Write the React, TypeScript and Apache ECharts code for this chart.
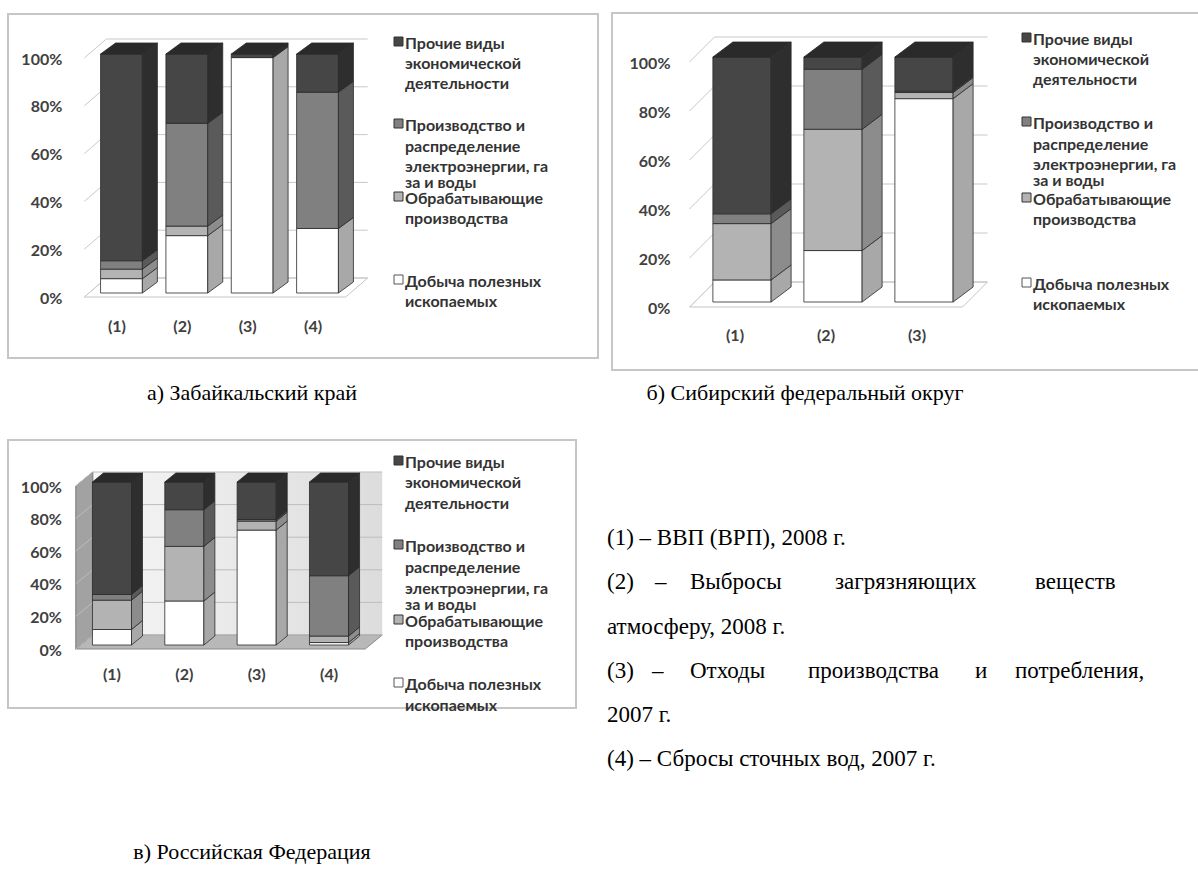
import React, { useEffect, useRef } from "react";
import * as echarts from "echarts";

// ---------- DATA ----------
const seriesNames = [
  "Добыча полезных ископаемых",
  "Обрабатывающие производства",
  "Производство и распределение электроэнергии, газа и воды",
  "Прочие виды экономической деятельности",
];

// а) Забайкальский край
const categoriesA = ["(1)", "(2)", "(3)", "(4)"];
const miningA = [6, 24, 98.5, 27];
const manufA = [4, 4, 0, 0];
const energyA = [3.5, 43, 0, 57];
const otherA = [86.5, 29, 1.5, 16];

// б) Сибирский федеральный округ
const categoriesB = ["(1)", "(2)", "(3)"];
const miningB = [9, 21, 83];
const manufB = [23, 49.5, 2.5];
const energyB = [4, 24.5, 0.5];
const otherB = [64, 5, 14];

// в) Российская Федерация
const categoriesC = ["(1)", "(2)", "(3)", "(4)"];
const miningC = [9.5, 27, 70.5, 1.5];
const manufC = [18, 33.5, 5.5, 4];
const energyC = [3.5, 22.5, 1, 37];
const otherC = [69, 17, 23, 57.5];

const yTicks = [0, 20, 40, 60, 80, 100];

const legendEntries = [
  { lines: ["Прочие виды", "экономической", "деятельности"], series: 3 },
  { lines: ["Производство и", "распределение", "электроэнергии, га", "за и воды"], series: 2 },
  { lines: ["Обрабатывающие", "производства"], series: 1 },
  { lines: ["Добыча полезных", "ископаемых"], series: 0 },
];

const captions = ["а) Забайкальский край", "б) Сибирский федеральный округ", "в) Российская Федерация"];

// ---------- STYLE ----------
const faces = [
  { front: "#ffffff", side: "#a8a8a8", top: "#e4e4e4" },
  { front: "#b3b3b3", side: "#8c8c8c", top: "#9e9e9e" },
  { front: "#808080", side: "#5a5a5a", top: "#6a6a6a" },
  { front: "#464646", side: "#2e2e2e", top: "#2a2a2a" },
];
const legendSwatch = ["#ffffff", "#b3b3b3", "#808080", "#464646"];
const SANS = "Lato";
const SERIF = "Liberation Serif";

const charts = [
  {
    cats: categoriesA, vals: [miningA, manufA, energyA, otherA],
    grid: { left: 84.3, top: 58, width: 261.4, height: 239 },
    frac: 0.64, ox: 4.5, oy: -4, bdx: 15, bdy: -11, wdx: 22, wdy: -19, shaded: false,
    xMargin: 20, yMargin: 22,
    legX: 394, legY: 42, legOffs: [[0, 20, 40], [82, 103, 123, 139], [155, 175], [238, 258]],
  },
  {
    cats: categoriesB, vals: [miningB, manufB, energyB, otherB],
    grid: { left: 689.5, top: 62, width: 273, height: 245 },
    frac: 0.64, ox: 7, oy: -5, bdx: 20, bdy: -15, wdx: 25, wdy: -25, shaded: false,
    xMargin: 19, yMargin: 19,
    legX: 1022, legY: 38, legOffs: [[0, 20, 40], [84, 105, 125, 141], [160, 180], [245, 265]],
  },
  {
    cats: categoriesC, vals: [miningC, manufC, energyC, otherC],
    grid: { left: 75.8, top: 486, width: 289.4, height: 163 },
    frac: 0.54, ox: 0, oy: -4, bdx: 11, bdy: -9, wdx: 17, wdy: -14, shaded: true,
    xMargin: 16, yMargin: 14,
    legX: 394, legY: 461, legOffs: [[0, 20, 41], [84, 105, 126, 142], [159, 179], [222, 243]],
  },
];

function buildOption() {
  const grid: any[] = [];
  const xAxis: any[] = [];
  const yAxis: any[] = [];
  const series: any[] = [];
  const graphic: any[] = [];

  charts.forEach((c, gi) => {
    grid.push({ ...c.grid, containLabel: false });
    xAxis.push({
      type: "category", gridIndex: gi, data: c.cats,
      axisLine: { show: false }, axisTick: { show: false }, splitLine: { show: false },
      axisLabel: { margin: c.xMargin, fontFamily: SANS, fontWeight: "bold", fontSize: 16, color: "#404040" },
    });
    yAxis.push({
      type: "value", gridIndex: gi, min: 0, max: 100, interval: 20,
      axisLine: { show: false }, axisTick: { show: false }, splitLine: { show: false },
      axisLabel: { margin: c.yMargin, formatter: "{value}%", fontFamily: SANS, fontWeight: "bold", fontSize: 16, color: "#404040" },
    });

    // walls & gridlines
    series.push({
      type: "custom", name: "walls" + gi, xAxisIndex: gi, yAxisIndex: gi, silent: true,
      data: yTicks.map((t) => [0, t]),
      encode: { x: 0, y: 1 },
      renderItem: (params: any, api: any) => {
        const v = api.value(1);
        const p = api.coord([0, v]);
        const cs = params.coordSys;
        const L = cs.x, R = cs.x + cs.width, y = p[1];
        const yTop = cs.y;
        const { wdx, wdy } = c;
        const children: any[] = [];
        if (v === 0) {
          if (c.shaded) {
            children.push({
              type: "polygon",
              shape: { points: [[L + wdx, y + wdy], [R + wdx, y + wdy], [R + wdx, yTop + wdy], [L + wdx, yTop + wdy]] },
              style: {
                fill: new echarts.graphic.LinearGradient(0, 0, 1, 0, [
                  { offset: 0, color: "#f6f6f6" }, { offset: 1, color: "#dcdcdc" },
                ]),
              },
            });
          }
          children.push({
            type: "polygon",
            shape: { points: [[L, y], [R, y], [R + wdx, y + wdy], [L + wdx, y + wdy]] },
            style: { fill: c.shaded ? "#b8b8b8" : "#ffffff", stroke: c.shaded ? "#8a8a8a" : "#c4c4c4", lineWidth: 1 },
          });
          children.push({
            type: "polygon",
            shape: { points: [[L, y], [L + wdx, y + wdy], [L + wdx, yTop + wdy], [L, yTop]] },
            style: { fill: c.shaded ? "#a2a2a2" : "#ffffff", stroke: c.shaded ? "#7a7a7a" : "none", lineWidth: 1 },
          });
        }
        children.push({
          type: "polyline",
          shape: { points: [[L, y], [L + wdx, y + wdy], [R + wdx, y + wdy]] },
          style: { stroke: c.shaded ? "#bdbdbd" : "#c8c8c8", lineWidth: 1, fill: "none" },
        });
        return { type: "group", children };
      },
      z: 1,
    });

    // stacked 3D bars
    c.vals.forEach((arr, si) => {
      const data = arr.map((v, i) => {
        let lo = 0;
        for (let k = 0; k < si; k++) lo += c.vals[k][i];
        let isTop = true;
        for (let k = si + 1; k < c.vals.length; k++) if (c.vals[k][i] > 0) isTop = false;
        return [i, lo, lo + v, isTop ? 1 : 0];
      });
      const f = faces[si];
      series.push({
        type: "custom", name: seriesNames[si], xAxisIndex: gi, yAxisIndex: gi,
        data, encode: { x: 0, y: [1, 2] },
        renderItem: (params: any, api: any) => {
          const cat = api.value(0), lo = api.value(1), hi = api.value(2), top = api.value(3);
          if (hi - lo <= 0) return null;
          const band = api.size([1, 0])[0];
          const w = band * c.frac;
          const pLo = api.coord([cat, lo]);
          const pHi = api.coord([cat, hi]);
          const cx = pLo[0] + c.ox;
          const yb = pLo[1] + c.oy, yt = pHi[1] + c.oy;
          const x0 = cx - w / 2, x1 = cx + w / 2;
          const dx = c.bdx, dy = c.bdy;
          const st = { stroke: "#2a2a2a", lineWidth: 0.8 };
          const children: any[] = [
            { type: "polygon", shape: { points: [[x0, yt], [x1, yt], [x1, yb], [x0, yb]] }, style: { fill: f.front, ...st } },
            { type: "polygon", shape: { points: [[x1, yb], [x1, yt], [x1 + dx, yt + dy], [x1 + dx, yb + dy]] }, style: { fill: f.side, ...st } },
          ];
          if (top) {
            children.push({ type: "polygon", shape: { points: [[x0, yt], [x1, yt], [x1 + dx, yt + dy], [x0 + dx, yt + dy]] }, style: { fill: f.top, ...st } });
          }
          return { type: "group", children };
        },
        z: 2,
      });
    });

    // legend
    legendEntries.forEach((e, ei) => {
      const offs = c.legOffs[ei];
      graphic.push({
        type: "rect", shape: { x: c.legX, y: c.legY + offs[0] - 5, width: 9, height: 9 },
        style: { fill: legendSwatch[e.series], stroke: e.series === 0 ? "#555" : "#333", lineWidth: 1 },
        z: 10,
      });
      e.lines.forEach((t, li) => {
        graphic.push({
          type: "text", x: c.legX + 11, y: c.legY + offs[li], z: 10,
          style: { text: t, fill: "#333", font: `bold 16px ${SANS}`, verticalAlign: "middle", align: "left" },
        });
      });
    });
  });

  // chart frames
  const frames = [
    { x: 8, y: 14, w: 590, h: 344 },
    { x: 612, y: 13, w: 600, h: 357 },
    { x: 8, y: 440, w: 568, h: 268 },
  ];
  frames.forEach((f) => {
    graphic.push({
      type: "rect", shape: { x: f.x, y: f.y, width: f.w, height: f.h }, z: 0,
      style: { fill: "none", stroke: "#c6c6c6", lineWidth: 2 },
    });
  });

  // captions
  const capPos = [[252, 392], [805, 392], [252, 851]];
  captions.forEach((t, i) => {
    graphic.push({
      type: "text", x: capPos[i][0], y: capPos[i][1], z: 10,
      style: { text: t, fill: "#000", font: `22px ${SERIF}`, align: "center", verticalAlign: "middle" },
    });
  });

  // explanation list (justified like the source)
  const listWords: [string, number, number][] = [
    ["(1) – ВВП (ВРП), 2008 г.", 607, 537],
    ["(2)", 607, 581], ["–", 655, 581], ["Выбросы", 690, 581], ["загрязняющих", 835, 581], ["веществ", 1035, 581],
    ["атмосферу, 2008 г.", 607, 626],
    ["(3)", 607, 670], ["–", 652, 670], ["Отходы", 690, 670], ["производства", 808, 670], ["и", 975, 670], ["потребления,", 1015, 670],
    ["2007 г.", 607, 714],
    ["(4) – Сбросы сточных вод, 2007 г.", 607, 758],
  ];
  listWords.forEach(([t, x, y]) => {
    graphic.push({
      type: "text", x, y, z: 10,
      style: { text: t, fill: "#000", font: `23px ${SERIF}`, align: "left", verticalAlign: "middle" },
    });
  });

  return {
    animation: false,
    backgroundColor: "#ffffff",
    grid, xAxis, yAxis, series, graphic,
  };
}

export default function App() {
  const ref = useRef<HTMLDivElement>(null);
  useEffect(() => {
    const chart = echarts.init(ref.current!, undefined, { renderer: "svg" });
    chart.setOption(buildOption() as any);
    return () => chart.dispose();
  }, []);
  return (
    <div
      ref={ref}
      style={{ position: "absolute", left: 0, top: 0, width: 1198, height: 879, background: "#fff" }}
    />
  );
}
